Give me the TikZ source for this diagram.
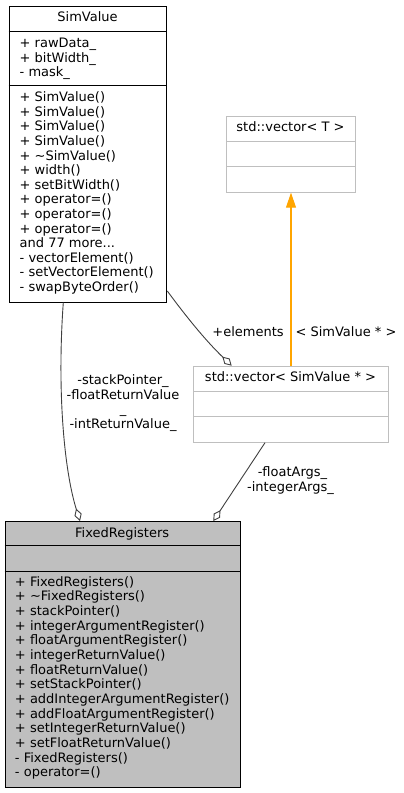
\documentclass[tikz,border=0pt]{standalone}
\usepackage{fontspec}
\setmainfont{DejaVu Sans}
\usetikzlibrary{arrows.meta}
\definecolor{edgegray}{HTML}{404040}
\definecolor{boxgray}{HTML}{BFBFBF}
\definecolor{lightborder}{HTML}{BFBFBF}
\definecolor{inhorange}{HTML}{FFA500}
\newcommand\threedots{...}
\tikzset{
  txt/.style={inner sep=0pt, anchor=base west, font=\fontsize{13}{15}\selectfont},
  ctr/.style={inner sep=0pt, anchor=base, font=\fontsize{13}{15}\selectfont},
  mainbox/.style={draw=black, line width=1pt, fill=white, inner sep=0pt, anchor=north west},
  grayfill/.style={mainbox, fill=boxgray},
  tplbox/.style={draw=lightborder, line width=1pt, fill=white, inner sep=0pt, anchor=north west},
  divline/.style={line width=1pt, draw=black},
  lightdiv/.style={line width=1pt, draw=lightborder},
  assoc/.style={draw=edgegray, line width=0.9pt, -{Diamond[open,length=13pt,width=7.5pt,line width=0.9pt]}},
  inhedge/.style={color=inhorange, line width=1.1pt, -{Triangle[length=15pt,width=10pt]}}
}
\begin{document}
\begin{tikzpicture}[x=1pt,y=-1pt]
\useasboundingbox[fill=white] (0,0) rectangle (404,793);

% ---------- SimValue ----------
\node[mainbox, minimum width=157.6pt, minimum height=295.8pt] (sv) at (8.7,5.7) {};
\draw[divline] (sv.west |- 0,31) -- (sv.east |- 0,31);
\draw[divline] (sv.west |- 0,85.7) -- (sv.east |- 0,85.7);
\node[ctr] (svt) at (87.5,21.7) {SimValue};
\foreach \t [count=\i] in {+ rawData\_, + bitWidth\_, - mask\_}
  \node[txt, name=sva\i] at (19.5,{47.5+(\i-1)*14.6}) {\t};
\foreach \t [count=\i] in {+ SimValue(), + SimValue(), + SimValue(), + SimValue(),
  + \textasciitilde SimValue(), + width(), + setBitWidth(), + operator=(),
  + operator=(), + operator=(), and 77 more\threedots, - vectorElement(),
  - setVectorElement(), - swapByteOrder()}
  \node[txt, name=svm\i] at (19.5,{101.7+(\i-1)*14.6}) {\t};

% ---------- std::vector< T > ----------
\node[tplbox, minimum width=129pt, minimum height=76pt] (vt) at (226,115.7) {};
\draw[lightdiv] (vt.west |- 0,141.7) -- (vt.east |- 0,141.7);
\draw[lightdiv] (vt.west |- 0,166.7) -- (vt.east |- 0,166.7);
\node[ctr] (vtt) at (290.5,131.7) {std::vector< T >};

% ---------- std::vector< SimValue * > ----------
\node[tplbox, minimum width=194.4pt, minimum height=76pt] (vs) at (193.3,365.7) {};
\draw[lightdiv] (vs.west |- 0,391.7) -- (vs.east |- 0,391.7);
\draw[lightdiv] (vs.west |- 0,416.7) -- (vs.east |- 0,416.7);
\node[ctr] (vst) at (290.5,381.7) {std::vector< SimValue * >};

% ---------- FixedRegisters ----------
\node[grayfill, minimum width=235pt, minimum height=265.7pt] (fr) at (4.7,521) {};
\draw[divline] (fr.west |- 0,545.7) -- (fr.east |- 0,545.7);
\draw[divline] (fr.west |- 0,571) -- (fr.east |- 0,571);
\node[ctr] (frt) at (122.2,537.3) {FixedRegisters};
\foreach \t [count=\i] in {+ FixedRegisters(), + \textasciitilde FixedRegisters(),
  + stackPointer(), + integerArgumentRegister(), + floatArgumentRegister(),
  + integerReturnValue(), + floatReturnValue(), + setStackPointer(),
  + addIntegerArgumentRegister(), + addFloatArgumentRegister(),
  + setIntegerReturnValue(), + setFloatReturnValue(), - FixedRegisters(),
  - operator=()}
  \node[txt, name=frm\i] at (14.8,{586+(\i-1)*14.67}) {\t};

% ---------- connectors ----------
\draw[inhedge] (vs.north) -- (vs.north |- vt.south);
\node[ctr] (lbl-tpl) at (346,336.7) {< SimValue * >};

\draw[assoc] ([yshift=11.5pt]sv.south east) .. controls (185,315) and (205,340) .. ([xshift=38.4pt]vs.north west);
\node[ctr] (lbl-el) at (248,336.7) {+elements};

\draw[assoc] ([xshift=54.6pt]sv.south west) .. controls (57,390) and (64,470) .. ([xshift=75.3pt]fr.north west);
\node[ctr] (lbl-sp1) at (123,384.3) {-stackPointer\_};
\node[ctr] (lbl-sp2) at (123,399) {-floatReturnValue};
\node[ctr] (lbl-sp3) at (123,413.6) {\_};
\node[ctr] (lbl-sp4) at (123,428.3) {-intReturnValue\_};

\draw[assoc] ([xshift=71.7pt]vs.south west) -- ([xshift=208.6pt]fr.north west);
\node[ctr] (lbl-fa1) at (292.5,476.7) {-floatArgs\_};
\node[ctr] (lbl-fa2) at (290.5,491.7) {-integerArgs\_};
\end{tikzpicture}
\end{document}
